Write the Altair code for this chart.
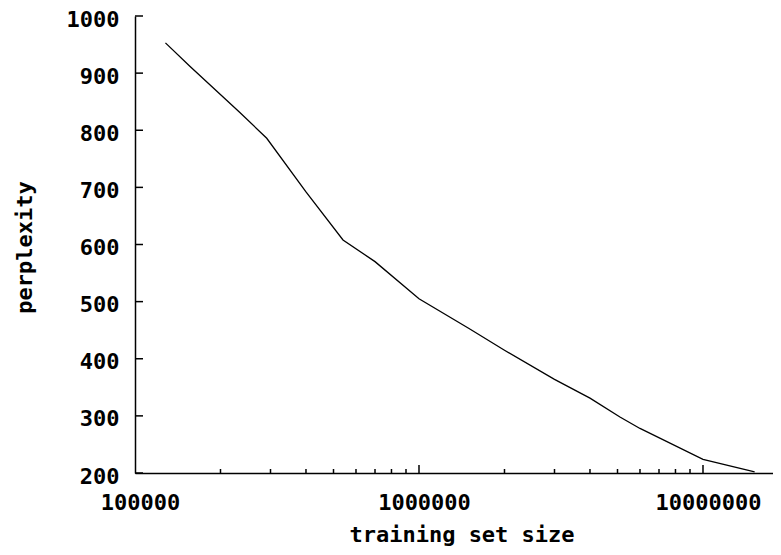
import altair as alt
import pandas as pd

# data
train_size = [128000, 156000, 233000, 291000, 400000, 540000, 700000, 1000000,
              1500000, 2000000, 3000000, 4000000, 5100000, 6000000, 10000000, 15200000]
perplexity = [953, 912, 832, 786, 692, 608, 570, 505,
              453, 415, 364, 331, 298, 278, 224, 202]

y_ticks = [200, 300, 400, 500, 600, 700, 800, 900, 1000]
x_labels = [100000, 1000000, 10000000]
x_major_ticks = [1000000, 10000000]
x_minor_ticks = [200000, 300000, 400000, 500000, 600000, 700000, 800000, 900000,
                 2000000, 3000000, 4000000, 5000000, 6000000, 7000000, 8000000, 9000000]

W, H = 638, 457
FONT = "DejaVu Sans Mono"
FS = 22

xscale = alt.Scale(type="log", domain=[100000, 17640000], nice=False)
yscale = alt.Scale(domain=[200, 1000], nice=False, zero=False)

xaxis = alt.Axis(values=x_labels, format="d", ticks=False, grid=False,
                 labelFont=FONT, labelFontWeight="bold", labelFontSize=FS,
                 labelColor="black", labelPadding=19, labelOffset=5,
                 labelFlush=False, labelOverlap=False,
                 domainColor="black", domainWidth=1.5,
                 title="training set size", titleFont=FONT, titleFontWeight="bold",
                 titleFontSize=FS, titleColor="black", titleX=326.5, titleY=68,
                 titleBaseline="alphabetic", titleAlign="center")
yaxis = alt.Axis(values=y_ticks, format="d", ticks=False, grid=False,
                 labelFont=FONT, labelFontWeight="bold", labelFontSize=FS,
                 labelColor="black", labelPadding=16, labelOffset=3,
                 labelFlush=False, labelOverlap=False,
                 domainColor="black", domainWidth=1.5,
                 title="perplexity", titleFont=FONT, titleFontWeight="bold",
                 titleFontSize=FS, titleColor="black", titleX=-111, titleY=231,
                 titleAngle=-90, titleBaseline="middle", titleAlign="center")

df = pd.DataFrame({"size": train_size, "perplexity": perplexity})
line = alt.Chart(df).mark_line(color="black", strokeWidth=1.3).encode(
    x=alt.X("size:Q", scale=xscale, axis=xaxis),
    y=alt.Y("perplexity:Q", scale=yscale, axis=yaxis),
)

ytick_df = pd.DataFrame({"perplexity": y_ticks})
yticks = alt.Chart(ytick_df).mark_rule(color="black", strokeWidth=1.5).encode(
    y=alt.Y("perplexity:Q", scale=yscale, axis=yaxis),
    x=alt.value(0), x2=alt.value(8),
)

xmaj_df = pd.DataFrame({"size": x_major_ticks})
xmaj = alt.Chart(xmaj_df).mark_rule(color="black", strokeWidth=1.5).encode(
    x=alt.X("size:Q", scale=xscale, axis=xaxis),
    y=alt.value(H), y2=alt.value(H - 8),
)

xmin_df = pd.DataFrame({"size": x_minor_ticks})
xmin = alt.Chart(xmin_df).mark_rule(color="black", strokeWidth=1.5).encode(
    x=alt.X("size:Q", scale=xscale, axis=xaxis),
    y=alt.value(H), y2=alt.value(H - 4),
)

chart = alt.layer(line, yticks, xmaj, xmin).properties(
    width=W, height=H,
    autosize=alt.AutoSizeParams(type="none"),
    padding={"left": 127, "top": 8, "right": 0, "bottom": 74},
    background="white",
).configure_view(stroke=None)

chart.save("out.html", embed_options={"renderer": "svg", "actions": False})
